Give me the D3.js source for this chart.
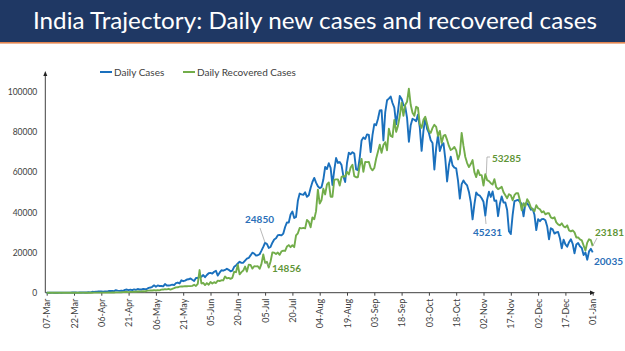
<!DOCTYPE html>
<html>
<head>
<meta charset="utf-8">
<script src="https://cdn.jsdelivr.net/npm/d3@7"></script>
<style>
  html, body { margin: 0; padding: 0; background: #ffffff; }
  svg { display: block; }
  text { font-family: Lato, "Open Sans", sans-serif; }
</style>
</head>
<body>
<svg id="chart" width="625" height="351"></svg>
<script>
// ---------------- DATA ----------------
const titleText = "India Trajectory: Daily new cases and recovered cases";
const startDate = "2020-03-07";
const seriesNames = ["Daily Cases", "Daily Recovered Cases"];

// Daily new cases, one value per day from 07-Mar-2020 to 01-Jan-2021
const casesMar = [3,5,9,15,8,11,9,20,11,15,28,14,38,50,86,66,103,37,121,70,160,100,112,227,146];
const casesApr = [437,424,486,560,579,609,484,573,565,813,871,854,758,1243,1031,886,1061,922,1371,1580,1239,1537,1292,1667,1408,1835,1607,1568,1902,1705];
const casesMay = [1801,2396,2564,2952,3656,2971,3602,3344,3339,3175,4311,3592,3562,3726,3991,3808,4794,5049,4628,6154,5720,6023,6536,6667,7111,6414,5843,7293,7300,8105,7964];
const casesJun = [8789,7723,8812,9689,9849,9472,10408,10882,8536,9981,11156,10956,11306,11929,11374,10667,10974,12881,13586,14516,15413,14821,14933,15968,16922,17296,18552,19906,19459,18522];
const casesJul = [18653,19148,20903,22771,24850,24248,22252,22752,24879,26506,27114,28637,28701,28498,29429,32695,34956,34884,38902,40425,37148,37724,45720,49310,48916,48661,49931,47704,48513,52123,55079];
const casesAug = [57118,54736,52972,52050,52509,56282,62538,61537,64399,62064,53601,60963,66999,64553,65002,63490,57981,55079,64531,69652,68898,69878,69239,61408,60975,67151,75760,77266,76472,78761,78512];
const casesSep = [69921,78357,83883,83341,86432,90632,90802,75809,89706,95735,96551,97570,94372,92071,83809,90123,97894,96424,93337,92605,86961,75083,83347,86508,86052,85362,88600,82170,70589,80472];
const casesOct = [86821,81484,79476,75829,74442,61267,72049,78524,70496,73272,74383,66732,55342,63509,67708,63371,62212,61871,55722,46790,54044,55839,54366,53370,50129,45149,36470,43893,49881,48648,48268];
const casesNov = [46963,45231,38310,46253,50210,47638,50357,45674,45903,38073,44281,47905,44879,44878,41100,30548,29163,38617,45576,45882,46232,45209,44059,37975,44376,44489,43082,41322,41810,38772];
const casesDec = [31118,36604,35551,36595,36652,36011,32981,26567,32080,31521,29398,30006,30254,27071,22065,26382,24010,22890,25152,26624,24337,19556,23950,24712,23067,22273,18732,20021,16432,20549,21822];
const casesJan = [20035];

// Daily recovered cases, same days
const recMar = [0,0,0,1,0,1,2,0,4,1,1,2,1,3,1,0,17,8,4,12,15,0,20,6,19];
const recApr = [2,15,19,30,18,41,33,35,50,80,60,97,110,140,180,170,200,260,330,360,300,390,420,480,500,590,560,650,700,630];
const recMay = [890,1020,1080,1110,1250,1070,1270,1170,1510,1560,1800,1680,1930,1550,1880,2230,2650,2700,3030,3110,3120,3280,3230,3280,3280,3410,3940,3350,4420,11260,4600];
const recJun = [4835,3804,4776,3975,5355,4611,5220,4802,5991,5823,6166,6107,8049,7135,7390,6922,7390,10386,10215,13925,9120,10244,10994,13012,10495,13940,13832,12010,13157,13099];
const recJul = [13157,11881,14335,19000,14856,15350,12500,15515,20033,19873,19235,19981,18850,20572,20917,20783,22942,23672,22664,23600,22664,28472,29557,32223,31991,32223,31991,36145,35286,32553,37425];
const recAug = [36569,40574,51255,44306,46121,51706,48900,53879,54859,47746,47746,56110,56383,56383,53322,57584,57937,57759,60091,58794,62282,63631,57989,57469,57469,63173,66550,60177,65050,64935,65081];
const recSep = [62026,60868,62026,66659,70072,73642,69564,73521,74894,70880,81533,78000,77500,86000,80000,83000,88000,94500,88000,93500,95000,101468,93500,89500,88000,92500,92000,84000,82000,86000];
const recOct = [87500,84000,80500,79500,82000,83500,82500,78000,80500,74500,78000,78500,76000,73000,71000,71500,72500,70800,66300,69000,79500,73000,67500,64500,62500,64000,66000,60000,57500,61000,58500];
const recNov = [58500,53285,59000,56000,55500,54500,53800,56500,52500,51500,52000,52700,50000,48500,47000,49000,48500,46000,48500,49500,49500,46000,41000,44500,43000,46500,45000,42500,41500,40500];
const recDec = [43500,42000,41500,40000,40500,39000,39500,39500,37500,37000,37500,35000,34000,33500,34500,33000,32500,33500,31000,30500,31000,30000,27500,27500,26500,26000,23500,21000,24900,26572,26139];
const recJan = [23181];

const xTickLabels = ["07-Mar","22-Mar","06-Apr","21-Apr","06-May","21-May","05-Jun","20-Jun","05-Jul","20-Jul","04-Aug","19-Aug","03-Sep","18-Sep","03-Oct","18-Oct","02-Nov","17-Nov","02-Dec","17-Dec","01-Jan"];
const yTickValues = [0, 20000, 40000, 60000, 80000, 100000];

// data labels: [series index, date, text]
const labelDates = ["2020-07-05", "2020-07-05", "2020-11-03", "2020-11-03", "2021-01-01", "2021-01-01"];
const labelSeries = [0, 1, 0, 1, 1, 0];
const labelTexts = ["24850", "14856", "45231", "53285", "23181", "20035"];

// ---------------- BUILD ----------------
const dailyCases = [].concat(casesMar, casesApr, casesMay, casesJun, casesJul, casesAug, casesSep, casesOct, casesNov, casesDec, casesJan);
const dailyRecovered = [].concat(recMar, recApr, recMay, recJun, recJul, recAug, recSep, recOct, recNov, recDec, recJan);
const parse = d3.utcParse("%Y-%m-%d");
const t0 = parse(startDate);
const dates = dailyCases.map((_, i) => d3.utcDay.offset(t0, i));
const series = [dailyCases, dailyRecovered].map(vals => vals.map((v, i) => ({ date: dates[i], value: v })));
const colors = ["#1a70bd", "#72ad4a"];
const labelColors = ["#2a6fb8", "#5f9537"];

const svg = d3.select("#chart");

// title band
svg.append("rect").attr("x", 0).attr("y", 0).attr("width", 625).attr("height", 42).attr("fill", "#1f3864");
svg.append("rect").attr("x", 0).attr("y", 42).attr("width", 625).attr("height", 1.6).attr("fill", "#e2844f");
svg.append("text")
  .attr("x", 33).attr("y", 28.5)
  .attr("fill", "#ffffff")
  .attr("font-size", 24)
  .attr("textLength", 564).attr("lengthAdjust", "spacingAndGlyphs")
  .text(titleText);

// scales
const x = d3.scaleUtc().domain([dates[0], dates[dates.length - 1]]).range([46.7, 592.7]);
const y = d3.scaleLinear().domain([0, 100000]).range([292.7, 91.7]);

// y axis
const yAxis = d3.axisLeft(y).tickValues(yTickValues).tickSize(0).tickPadding(8).tickFormat(d3.format("d"));
const gy = svg.append("g").attr("transform", "translate(45.3,0)").call(yAxis);
gy.select(".domain").remove();
gy.selectAll("text").attr("font-size", 8.5).attr("fill", "#404040").style("font-family", "Lato, sans-serif");
svg.append("line").attr("x1", 45.3).attr("x2", 45.3).attr("y1", 292.7).attr("y2", 74)
  .attr("stroke", "#404040").attr("stroke-width", 1);
svg.append("path").attr("d", "M45.3,71 L43.3,76 L47.3,76 Z").attr("fill", "#202020");

// x axis
const tickDates = xTickLabels.map((_, i) => d3.utcDay.offset(t0, i * 15));
const xAxis = d3.axisBottom(x).tickValues(tickDates).tickSize(3).tickPadding(4)
  .tickFormat((d, i) => xTickLabels[i]);
const gx = svg.append("g").attr("transform", "translate(0,292.7)").call(xAxis);
gx.select(".domain").attr("d", "M45.3,0H590").attr("stroke", "#404040");
gx.selectAll(".tick line").attr("stroke", "#404040");
gx.selectAll("text")
  .attr("font-size", 9).attr("fill", "#404040").style("font-family", "Lato, sans-serif")
  .attr("text-anchor", "end")
  .attr("transform", "rotate(-90)")
  .attr("x", -6).attr("y", 0).attr("dy", "0.35em");
svg.append("path").attr("d", "M595,292.7 L590,290.5 L590,294.9 Z").attr("fill", "#202020");

// lines
const line = d3.line().x(d => x(d.date)).y(d => y(d.value)).curve(d3.curveLinear);
[0, 1].forEach(k => {
  svg.append("path").datum(series[k])
    .attr("fill", "none").attr("stroke", colors[k]).attr("stroke-width", 1.9)
    .attr("stroke-linejoin", "round").attr("d", line);
});

// legend
const legendX = [100, 183];
seriesNames.forEach((name, k) => {
  svg.append("line").attr("x1", legendX[k]).attr("x2", legendX[k] + 12).attr("y1", 72).attr("y2", 72)
    .attr("stroke", colors[k]).attr("stroke-width", 2);
  svg.append("text").attr("x", legendX[k] + 14).attr("y", 72).attr("dy", "0.35em")
    .attr("font-size", 10).attr("fill", "#404040").text(name);
});

// data labels with leader lines
const labelOffsets = [
  { tx: 245, ty: 219, leader: (p) => [[p[0], p[1]], [260, 228]] },
  { tx: 272, ty: 268, leader: (p) => [[p[0], p[1]], [270, 265.5]] },
  { tx: 473, ty: 232, leader: (p) => [[p[0], p[1] + 1], [486, 224]] },
  { tx: 492, ty: 158, leader: (p) => [[p[0] + 1, p[1]], [487, 157], [490, 157]] },
  { tx: 595, ty: 232, leader: (p) => [[p[0], p[1]], [597, 238]] },
  { tx: 594, ty: 261, leader: null }
];
labelTexts.forEach((txt, i) => {
  const k = labelSeries[i];
  const dt = parse(labelDates[i]);
  const idx = d3.bisector(d => d.date).left(series[k], dt);
  const pt = series[k][idx];
  const p = [x(pt.date), y(pt.value)];
  const o = labelOffsets[i];
  if (o.leader) {
    svg.append("path").attr("d", d3.line()(o.leader(p)))
      .attr("fill", "none").attr("stroke", "#a6a6a6").attr("stroke-width", 0.8);
  }
  svg.append("text").attr("x", o.tx).attr("y", o.ty).attr("dy", "0.35em")
    .attr("font-size", 10).attr("font-weight", "bold").attr("fill", labelColors[k]).text(txt);
});
</script>
</body>
</html>
